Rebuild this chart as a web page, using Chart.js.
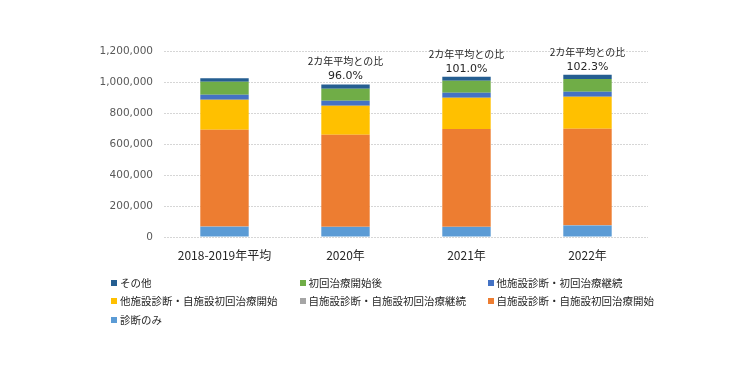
<!DOCTYPE html>
<html><head><meta charset="utf-8">
<script src="https://cdn.jsdelivr.net/npm/chart.js@4"></script>
<style>
html,body{margin:0;padding:0;background:#fff;}
#wrap{position:relative;width:756px;height:378px;}
#c{position:absolute;left:0;top:0;}
.lg{position:absolute;font-family:"Noto Sans CJK JP";font-size:10.5px;color:#262626;white-space:nowrap;line-height:14px;height:14px;display:flex;align-items:center;}
.lg i{display:inline-block;width:6px;height:6px;margin-right:3px;flex:none;}
</style>
</head><body>
<div id="wrap"><canvas id="c" width="756" height="378"></canvas><div id="legend"></div></div>
<script>
const categories = ['2018-2019年平均', '2020年', '2021年', '2022年'];
const ratioTitle = '2カ年平均との比';
const ratioLabels = ['', '96.0%', '101.0%', '102.3%'];
const yTicks = [0, 200000, 400000, 600000, 800000, 1000000, 1200000];

// series (bottom to top of the stack)
const shindanNomi      = [66000, 64000, 64500, 75000];      // 診断のみ
const jiJiKeizoku      = [1500, 1500, 1500, 1500];          // 自施設診断・自施設初回治療継続
const jiJiKaishi       = [624500, 594000, 631000, 622500];  // 自施設診断・自施設初回治療開始
const taJiKaishi       = [194000, 187000, 202000, 206000];  // 他施設診断・自施設初回治療開始
const taShokaiKeizoku  = [32000, 32000, 32000, 32500];      // 他施設診断・初回治療継続
const shokaiGo         = [84000, 78000, 77000, 81500];      // 初回治療開始後
const sonota           = [23000, 27500, 26000, 28000];      // その他

const datasets = [
  {label:'診断のみ', data:shindanNomi, backgroundColor:'#5B9BD5'},
  {label:'自施設診断・自施設初回治療継続', data:jiJiKeizoku, backgroundColor:'#A5A5A5'},
  {label:'自施設診断・自施設初回治療開始', data:jiJiKaishi, backgroundColor:'#ED7D31'},
  {label:'他施設診断・自施設初回治療開始', data:taJiKaishi, backgroundColor:'#FFC000'},
  {label:'他施設診断・初回治療継続', data:taShokaiKeizoku, backgroundColor:'#4472C4'},
  {label:'初回治療開始後', data:shokaiGo, backgroundColor:'#70AD47'},
  {label:'その他', data:sonota, backgroundColor:'#255E91'}
];
datasets.forEach(d => { d.borderWidth = 0; d.categoryPercentage = 1; d.barPercentage = 0.4; });

const ratioPlugin = {
  id: 'ratio',
  afterDatasetsDraw(chart) {
    const ctx = chart.ctx;
    const last = chart.getDatasetMeta(chart.data.datasets.length - 1);
    ctx.save();
    ctx.fillStyle = '#262626';
    ctx.textAlign = 'center';
    ctx.textBaseline = 'middle';
    ratioLabels.forEach((t, i) => {
      if (!t) return;
      const bar = last.data[i];
      ctx.font = '10px "Noto Sans CJK JP"';
      ctx.fillText(ratioTitle, bar.x, bar.y - 23);
      ctx.font = '11px "DejaVu Sans"';
      ctx.fillText(t, bar.x, bar.y - 8);
    });
    ctx.restore();
  }
};

new Chart(document.getElementById('c'), {
  type: 'bar',
  data: { labels: categories, datasets },
  options: {
    responsive: false,
    animation: false,
    layout: { padding: { top: 51, right: 108, left: 0, bottom: 0 } },
    plugins: { legend: { display: false }, tooltip: { enabled: false } },
    scales: {
      x: {
        stacked: true,
        grid: { display: false, drawTicks: false },
        border: { display: false },
        ticks: { color: '#262626', font: { family: '"Noto Sans CJK JP"', size: 12 }, padding: 11, maxRotation: 0 },
        afterFit: s => { s.height = 141; }
      },
      y: {
        stacked: true,
        min: 0, max: 1200000,
        afterBuildTicks: s => { s.ticks = yTicks.map(v => ({ value: v })); },
        grid: { color: '#d6d6d6', drawTicks: false },
        border: { display: false, dash: [2, 1] },
        ticks: { color: '#595959', font: { family: '"DejaVu Sans"', size: 10.5 }, padding: 11,
          callback: v => v.toLocaleString('en-US') },
        afterFit: s => { s.width = 164; }
      }
    }
  },
  plugins: [ratioPlugin]
});

// legend (Excel order, 3 columns)
const legendOrder = [6, 5, 4, 3, 1, 2, 0];
const colX = [111, 299.5, 487.5];
const rowY = [283, 301, 319.5];
const lg = document.getElementById('legend');
legendOrder.forEach((di, k) => {
  const d = datasets[di];
  const el = document.createElement('div');
  el.className = 'lg';
  el.style.left = colX[k % 3] + 'px';
  el.style.top = (rowY[Math.floor(k / 3)] - 7) + 'px';
  el.innerHTML = '<i style="background:' + d.backgroundColor + '"></i>';
  el.appendChild(document.createTextNode(d.label));
  lg.appendChild(el);
});
</script>
</body></html>
